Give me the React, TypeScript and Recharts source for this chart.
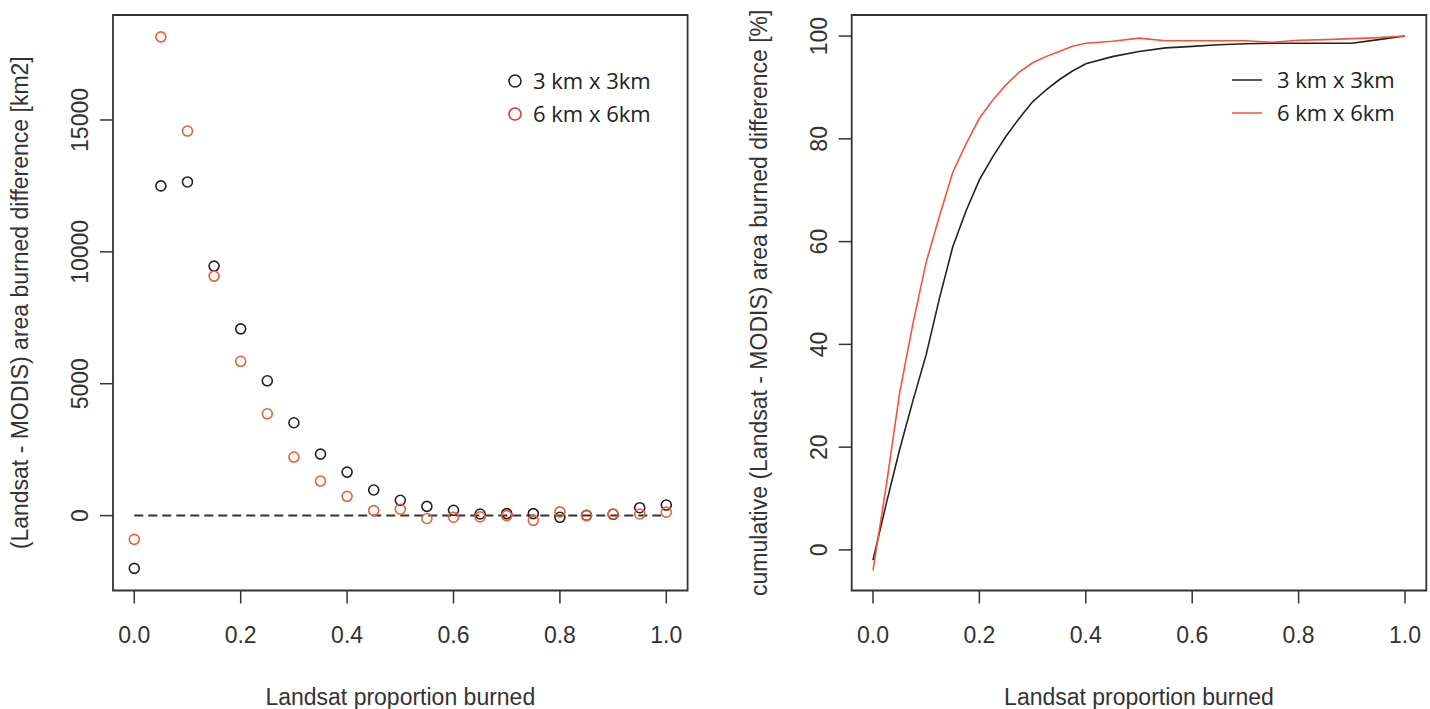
import React from 'react'
import {
  ScatterChart,
  Scatter,
  LineChart,
  Line,
  XAxis,
  YAxis,
  ReferenceArea,
  ReferenceLine,
  Legend,
  Label,
} from 'recharts'

// Left panel: difference per Landsat proportion class
const proportion = [0, 0.05, 0.1, 0.15, 0.2, 0.25, 0.3, 0.35, 0.4, 0.45, 0.5, 0.55, 0.6, 0.65, 0.7, 0.75, 0.8, 0.85, 0.9, 0.95, 1.0]
const diff3km = [-2000, 12500, 12650, 9460, 7080, 5110, 3520, 2330, 1650, 970, 580, 350, 200, 60, 75, 75, -65, 10, 50, 300, 400]
const diff6km = [-900, 18150, 14580, 9080, 5850, 3860, 2220, 1310, 730, 190, 240, -110, -60, -50, 0, -180, 140, 0, 60, 60, 130]

// Right panel: cumulative difference in %
const cumX = [0, 0.025, 0.05, 0.075, 0.1, 0.125, 0.15, 0.175, 0.2, 0.225, 0.25, 0.275, 0.3, 0.325, 0.35, 0.375, 0.4, 0.45, 0.5, 0.55, 0.6, 0.65, 0.7, 0.75, 0.8, 0.85, 0.9, 0.95, 1.0]
const cum3km = [-2, 9, 19.5, 29, 38, 49, 59, 66, 72, 76.5, 80.5, 84, 87.2, 89.5, 91.5, 93.2, 94.6, 96, 97, 97.7, 98, 98.3, 98.5, 98.6, 98.6, 98.6, 98.6, 99.3, 100]
const cum6km = [-4, 12.5, 30.5, 44, 56, 65, 73.5, 79, 84, 87.5, 90.5, 93, 94.8, 96, 97, 98, 98.6, 99, 99.6, 99.1, 99.1, 99.1, 99.1, 98.8, 99.2, 99.3, 99.5, 99.7, 100]

const xTicks = [0, 0.2, 0.4, 0.6, 0.8, 1.0]
const leftYTicks = [0, 5000, 10000, 15000]
const rightYTicks = [0, 20, 40, 60, 80, 100]

const seriesNames = ['3 km x 3km', '6 km x 6km']

const BLACK = '#222222'
const RED_PT = '#e8603c'
const RED_LINE = '#f4553a'
const AXIS = '#333333'
const FONT = '"Liberation Sans", Arial, sans-serif'

const xDomain = [-0.04, 1.04]
const leftYDomain = [-2840, 18980]
const rightYDomain = [-7.9, 104.1]

const scatter3 = proportion.map((x, i) => ({ x, y: diff3km[i] }))
const scatter6 = proportion.map((x, i) => ({ x, y: diff6km[i] }))
const cumData = cumX.map((x, i) => ({ x, a: cum3km[i], b: cum6km[i] }))

const XTick = ({ x, y, payload }: any) => (
  <text x={x} y={y + 37} textAnchor="middle" fontFamily={FONT} fontSize={23} fill={AXIS}>
    {payload.value.toFixed(1)}
  </text>
)

const YTick = ({ x, y, payload }: any) => (
  <text x={x} y={y} transform={`rotate(-90 ${x} ${y})`} textAnchor="middle" fontFamily={FONT} fontSize={23} fill={AXIS}>
    {payload.value}
  </text>
)

const xTitle = (props: any) => {
  const { viewBox } = props
  return (
    <text x={viewBox.x + viewBox.width / 2} y={viewBox.y + 114} textAnchor="middle" fontFamily={FONT} fontSize={23} fill={AXIS}>
      Landsat proportion burned
    </text>
  )
}

const yTitle = (text: string) => (props: any) => {
  const { viewBox } = props
  const x = viewBox.x + viewBox.width - 85
  const y = viewBox.y + viewBox.height / 2
  return (
    <text x={x} y={y} transform={`rotate(-90 ${x} ${y})`} textAnchor="middle" fontFamily={FONT} fontSize={23} fill={AXIS}>
      {text}
    </text>
  )
}

const hollow = (color: string) => (p: any) => (
  <circle cx={p.cx} cy={p.cy} r={5} fill="none" stroke={color} strokeWidth={1.6} />
)

const PointLegend = () => (
  <div style={{ fontFamily: '"Open Sans", sans-serif', fontSize: 22, color: BLACK, lineHeight: '33px' }}>
    {seriesNames.map((name, i) => (
      <div key={name} style={{ display: 'flex', alignItems: 'center', height: 33 }}>
        <svg width={20} height={20} style={{ marginRight: 8 }}>
          <circle cx={10} cy={10} r={6} fill="none" stroke={i === 0 ? BLACK : '#e03a2a'} strokeWidth={1.6} />
        </svg>
        <span>{name}</span>
      </div>
    ))}
  </div>
)

const LineLegend = () => (
  <div style={{ fontFamily: '"Open Sans", sans-serif', fontSize: 22, color: BLACK, lineHeight: '33px' }}>
    {seriesNames.map((name, i) => (
      <div key={name} style={{ display: 'flex', alignItems: 'center', height: 33 }}>
        <svg width={30} height={20} style={{ marginRight: 15 }}>
          <line x1={0} x2={30} y1={10} y2={10} stroke={i === 0 ? BLACK : RED_LINE} strokeWidth={1.5} />
        </svg>
        <span>{name}</span>
      </div>
    ))}
  </div>
)

export default function App() {
  return (
    <div style={{ position: 'absolute', left: 0, top: 0, width: 1430, height: 709, background: '#fff', overflow: 'hidden' }}>
      <div style={{ position: 'absolute', left: 0, top: 0 }}>
        <ScatterChart width={715} height={709} margin={{ top: 15, right: 27.4, bottom: 0, left: 0 }}>
          <XAxis
            type="number"
            dataKey="x"
            domain={xDomain}
            ticks={xTicks}
            allowDataOverflow
            height={118.5}
            axisLine={false}
            tickSize={13}
            tickLine={{ stroke: AXIS, strokeWidth: 1.5 }}
            tick={<XTick />}
            interval={0}
          >
            <Label content={xTitle} />
          </XAxis>
          <YAxis
            type="number"
            dataKey="y"
            domain={leftYDomain}
            ticks={leftYTicks}
            allowDataOverflow
            width={113}
            axisLine={false}
            tickSize={13}
            tickMargin={12}
            tickLine={{ stroke: AXIS, strokeWidth: 1.5 }}
            tick={<YTick />}
            interval={0}
          >
            <Label content={yTitle('(Landsat - MODIS) area burned difference [km2]')} />
          </YAxis>
          <ReferenceArea
            x1={xDomain[0]}
            x2={xDomain[1]}
            y1={leftYDomain[0]}
            y2={leftYDomain[1]}
            fill="none"
            stroke={AXIS}
            strokeWidth={1.8}
            ifOverflow="visible"
          />
          <ReferenceLine
            segment={[{ x: 0, y: 0 }, { x: 1, y: 0 }]}
            stroke={AXIS}
            strokeWidth={2}
            strokeDasharray="9 5"
          />
          <Scatter name={seriesNames[0]} data={scatter3} shape={hollow(BLACK)} isAnimationActive={false} />
          <Scatter name={seriesNames[1]} data={scatter6} shape={hollow(RED_PT)} isAnimationActive={false} />
          <Legend
            layout="vertical"
            align="center"
            verticalAlign="middle"
            content={<PointLegend />}
            wrapperStyle={{ position: 'absolute', left: 505, top: 64, width: 180 }}
          />
        </ScatterChart>
      </div>
      <div style={{ position: 'absolute', left: 715, top: 0 }}>
        <LineChart width={715} height={709} data={cumData} margin={{ top: 15, right: 3.7, bottom: 0, left: 0 }}>
          <XAxis
            type="number"
            dataKey="x"
            domain={xDomain}
            ticks={xTicks}
            allowDataOverflow
            height={118.5}
            axisLine={false}
            tickSize={13}
            tickLine={{ stroke: AXIS, strokeWidth: 1.5 }}
            tick={<XTick />}
            interval={0}
          >
            <Label content={xTitle} />
          </XAxis>
          <YAxis
            type="number"
            domain={rightYDomain}
            ticks={rightYTicks}
            allowDataOverflow
            width={136.7}
            axisLine={false}
            tickSize={13}
            tickMargin={12}
            tickLine={{ stroke: AXIS, strokeWidth: 1.5 }}
            tick={<YTick />}
            interval={0}
          >
            <Label content={yTitle('cumulative (Landsat - MODIS) area burned difference [%]')} />
          </YAxis>
          <ReferenceArea
            x1={xDomain[0]}
            x2={xDomain[1]}
            y1={rightYDomain[0]}
            y2={rightYDomain[1]}
            fill="none"
            stroke={AXIS}
            strokeWidth={1.8}
            ifOverflow="visible"
          />
          <Line type="linear" dataKey="a" name={seriesNames[0]} stroke={BLACK} strokeWidth={1.6} dot={false} isAnimationActive={false} />
          <Line type="linear" dataKey="b" name={seriesNames[1]} stroke={RED_LINE} strokeWidth={1.6} dot={false} isAnimationActive={false} />
          <Legend
            layout="vertical"
            align="center"
            verticalAlign="middle"
            content={<LineLegend />}
            wrapperStyle={{ position: 'absolute', left: 517, top: 63, width: 190 }}
          />
        </LineChart>
      </div>
    </div>
  )
}
